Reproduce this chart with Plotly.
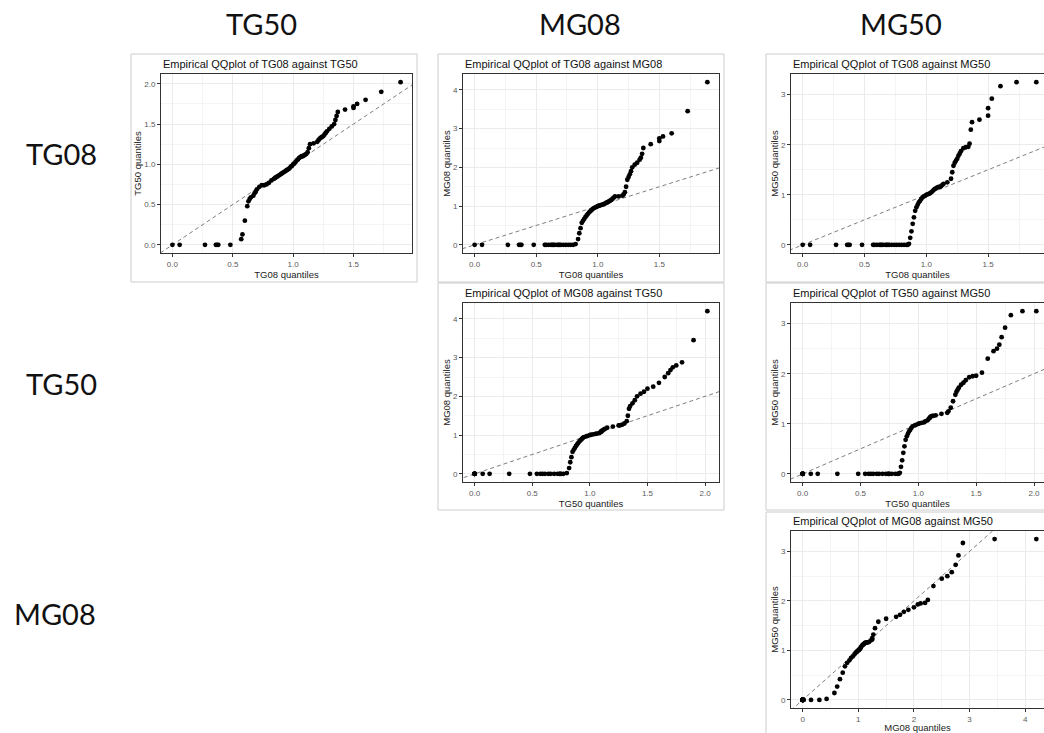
import plotly.graph_objects as go

# ---- data: empirical quantiles (same quantile levels for each variable) ----
tg08 = [0.00, 0.06, 0.27, 0.36, 0.37, 0.38, 0.48, 0.57, 0.58, 0.60,
        0.62, 0.63, 0.64, 0.65, 0.67, 0.68, 0.69, 0.70, 0.72, 0.74,
        0.76, 0.78, 0.80, 0.82, 0.84, 0.85, 0.86, 0.87, 0.88, 0.89,
        0.90, 0.91, 0.92, 0.93, 0.94, 0.95, 0.96, 0.97, 0.98, 0.99,
        1.00, 1.01, 1.02, 1.03, 1.04, 1.05, 1.06, 1.07, 1.08, 1.09,
        1.10, 1.11, 1.12, 1.13, 1.14, 1.17, 1.20, 1.21, 1.22, 1.23,
        1.24, 1.25, 1.26, 1.27, 1.28, 1.30, 1.32, 1.34, 1.35, 1.36,
        1.37, 1.43, 1.50, 1.50, 1.53, 1.60, 1.73, 1.89]
tg50 = [0.00, 0.00, 0.00, 0.00, 0.00, 0.00, 0.00, 0.07, 0.13, 0.30,
        0.48, 0.54, 0.57, 0.59, 0.61, 0.64, 0.66, 0.69, 0.72, 0.74,
        0.74, 0.75, 0.77, 0.80, 0.82, 0.83, 0.84, 0.85, 0.86, 0.87,
        0.88, 0.89, 0.90, 0.91, 0.92, 0.93, 0.94, 0.95, 0.97, 0.98,
        1.00, 1.01, 1.03, 1.05, 1.06, 1.08, 1.09, 1.10, 1.10, 1.11,
        1.12, 1.13, 1.15, 1.20, 1.25, 1.26, 1.28, 1.30, 1.32, 1.33,
        1.34, 1.35, 1.37, 1.39, 1.41, 1.44, 1.47, 1.50, 1.55, 1.60,
        1.65, 1.68, 1.70, 1.72, 1.75, 1.80, 1.90, 2.02]
mg08 = [0.00, 0.00, 0.00, 0.00, 0.00, 0.00, 0.00, 0.00, 0.00, 0.00,
        0.00, 0.00, 0.00, 0.00, 0.00, 0.00, 0.00, 0.00, 0.00, 0.00,
        0.00, 0.00, 0.00, 0.02, 0.15, 0.30, 0.43, 0.57, 0.62, 0.67,
        0.72, 0.76, 0.80, 0.84, 0.87, 0.90, 0.93, 0.95, 0.97, 0.98,
        1.00, 1.01, 1.02, 1.03, 1.04, 1.05, 1.07, 1.09, 1.10, 1.12,
        1.14, 1.16, 1.19, 1.22, 1.25, 1.25, 1.27, 1.30, 1.36, 1.50,
        1.68, 1.75, 1.82, 1.90, 2.00, 2.07, 2.12, 2.20, 2.25, 2.35,
        2.50, 2.60, 2.68, 2.75, 2.80, 2.88, 3.45, 4.20]
mg50 = [0.00, 0.00, 0.00, 0.00, 0.00, 0.00, 0.00, 0.00, 0.00, 0.00,
        0.00, 0.00, 0.00, 0.00, 0.00, 0.00, 0.00, 0.00, 0.00, 0.00,
        0.00, 0.00, 0.00, 0.00, 0.00, 0.00, 0.02, 0.14, 0.27, 0.42,
        0.55, 0.68, 0.75, 0.80, 0.85, 0.88, 0.92, 0.95, 0.97, 0.98,
        1.00, 1.01, 1.02, 1.03, 1.05, 1.07, 1.10, 1.12, 1.13, 1.15,
        1.16, 1.16, 1.17, 1.20, 1.22, 1.25, 1.32, 1.45, 1.58, 1.64,
        1.68, 1.72, 1.78, 1.82, 1.87, 1.93, 1.95, 1.96, 2.02, 2.30,
        2.45, 2.50, 2.58, 2.73, 2.92, 3.17, 3.25, 3.25]

col_labels = ["TG50", "MG08", "MG50"]
row_labels = ["TG08", "TG50", "MG08"]

data = {"TG08": tg08, "TG50": tg50, "MG08": mg08, "MG50": mg50}

# (x variable, y variable, title pair, plot box px, frame px)
panels = [
    ("TG08", "TG50", ("TG08", "TG50"), (161, 412, 74, 253), (131, 417, 54, 282)),
    ("TG08", "MG08", ("TG08", "MG08"), (463, 719, 74, 253), (438, 724, 54, 282)),
    ("TG08", "MG50", ("TG08", "MG50"), (791, 1048, 74, 253), (766, 1052, 54, 282)),
    ("TG50", "MG08", ("MG08", "TG50"), (463, 719, 303, 482), (438, 724, 283, 510)),
    ("TG50", "MG50", ("TG50", "MG50"), (791, 1048, 303, 482), (766, 1052, 283, 510)),
    ("MG08", "MG50", ("MG08", "MG50"), (791, 1048, 531, 708), (766, 1052, 512, 742)),
]

W, H = 1044, 733
fig = go.Figure()
shapes = []
annotations = []
TXT = "Liberation Sans, Arial, sans-serif"


def exp_range(v):
    lo, hi = min(v), max(v)
    s = hi - lo
    return lo - 0.05 * s, hi + 0.05 * s


for i, (xn, yn, tt, box, frame) in enumerate(panels):
    k = "" if i == 0 else str(i + 1)
    xv, yv = data[xn], data[yn]
    x0p, x1p, y0p, y1p = box
    xlo, xhi = exp_range(xv)
    ylo, yhi = exp_range(yv)
    full_xhi = xhi
    clipped = x1p > W
    if clipped:
        xhi = xlo + (xhi - xlo) * (W - x0p) / (x1p - x0p)
        x1p = W
    # frame of the ggplot image
    fx0, fx1, fy0, fy1 = frame
    shapes.append(dict(type="rect", xref="paper", yref="paper",
                       x0=fx0 / W, x1=fx1 / W, y0=1 - fy1 / H, y1=1 - fy0 / H,
                       line=dict(color="#cccccc", width=1), fillcolor="rgba(0,0,0,0)",
                       layer="below"))
    # reference line y = x
    lx = [min(xlo, ylo), max(full_xhi, yhi)]
    fig.add_trace(go.Scatter(x=lx, y=lx, mode="lines", xaxis="x" + k, yaxis="y" + k,
                             line=dict(color="#7f7f7f", width=1, dash="4px,3px"),
                             hoverinfo="skip", showlegend=False))
    fig.add_trace(go.Scatter(x=xv, y=yv, mode="markers", xaxis="x" + k, yaxis="y" + k,
                             marker=dict(color="black", size=4.8),
                             showlegend=False))
    xdt = 1 if max(xv) > 3 else 0.5
    ydt = 1 if max(yv) > 3 else 0.5
    common = dict(showline=True, linecolor="#333333", linewidth=1,
                  ticks="outside", ticklen=3, tickwidth=1, tickcolor="#333333",
                  tickfont=dict(family=TXT, size=8, color="#5a5a5a"),
                  showgrid=True, gridcolor="#ebebeb", gridwidth=1,
                  zeroline=False, automargin=False, tick0=0)
    fig.layout["xaxis" + k] = dict(
        common, domain=[x0p / W, x1p / W], anchor="y" + k, range=[xlo, xhi],
        dtick=xdt, tickformat=".1f" if xdt < 1 else "d", mirror=True,
        minor=dict(dtick=xdt / 2, tick0=0, showgrid=True, gridcolor="#f4f4f4", gridwidth=0.6),
        title=dict(text=xn + " quantiles", standoff=0,
                   font=dict(family=TXT, size=9.5, color="#222222")))
    fig.layout["yaxis" + k] = dict(
        common, domain=[1 - y1p / H, 1 - y0p / H], anchor="x" + k, range=[ylo, yhi],
        dtick=ydt, tickformat=".1f" if ydt < 1 else "d", mirror=not clipped,
        minor=dict(dtick=ydt / 2, tick0=0, showgrid=True, gridcolor="#f4f4f4", gridwidth=0.6),
        title=dict(text=yn + " quantiles", standoff=0,
                   font=dict(family=TXT, size=9.5, color="#222222")))
    annotations.append(dict(text="Empirical QQplot of %s against %s" % tt,
                            xref="paper", yref="paper", x=x0p / W, y=1 - (y0p - 10) / H,
                            xanchor="left", yanchor="middle", showarrow=False,
                            font=dict(family=TXT, size=11, color="#111111")))

HDR = "Lato, Open Sans, sans-serif"
for lab, cx in zip(col_labels, [261, 580, 901]):
    annotations.append(dict(text=lab, xref="paper", yref="paper", x=cx / W, y=1 - 24 / H,
                            xanchor="center", yanchor="middle", showarrow=False,
                            font=dict(family=HDR, size=29, color="#111111")))
for lab, cx, cy in zip(row_labels, [61, 61, 55], [153, 383, 613]):
    annotations.append(dict(text=lab, xref="paper", yref="paper", x=cx / W, y=1 - cy / H,
                            xanchor="center", yanchor="middle", showarrow=False,
                            font=dict(family=HDR, size=29, color="#111111")))

fig.update_layout(width=W, height=H, autosize=False,
                  margin=dict(l=0, r=0, t=0, b=0, pad=0),
                  paper_bgcolor="white", plot_bgcolor="white",
                  shapes=shapes, annotations=annotations, showlegend=False)

fig.write_html("out.html", config={"displayModeBar": False},
               post_script="document.body.style.margin='0';document.body.style.overflow='hidden';")
